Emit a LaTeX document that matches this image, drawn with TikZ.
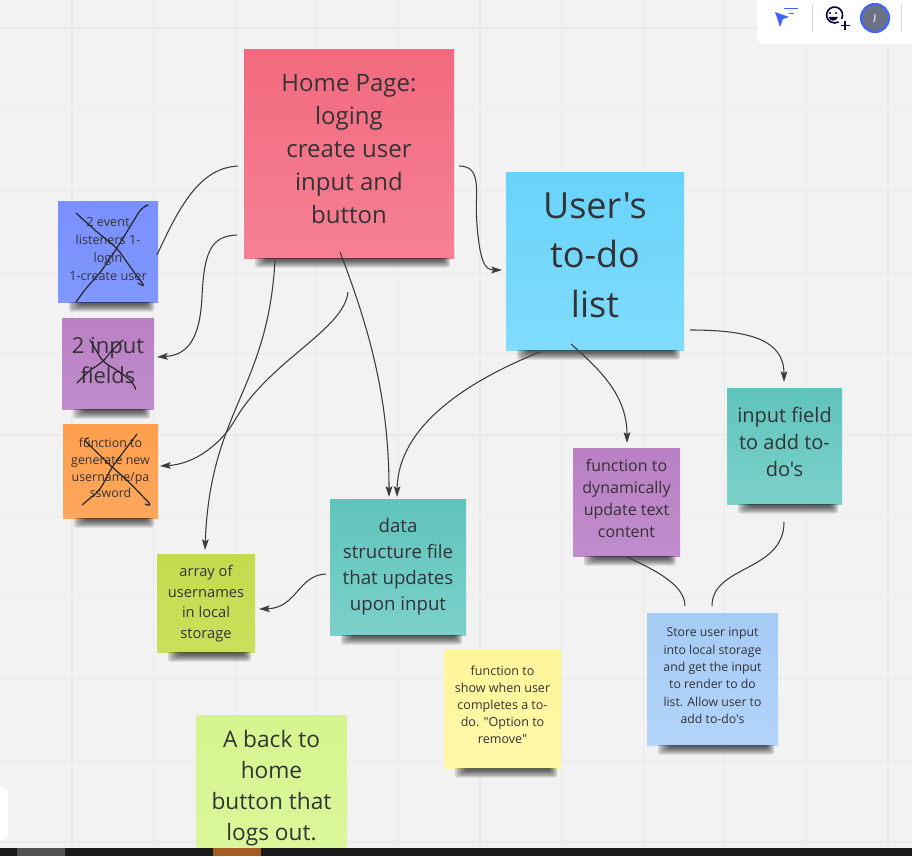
\documentclass[tikz,border=0pt]{standalone}
\usepackage{fontspec}
\newfontfamily\notefont{Open Sans}
\usepackage{xcolor}
\usetikzlibrary{calc}
\usetikzlibrary{arrows.meta}
\definecolor{boardbg}{HTML}{F2F2F2}
\definecolor{gridline}{HTML}{EAEAEA}
\definecolor{inkline}{HTML}{3C3C3C}
\definecolor{notetext}{HTML}{333336}
\definecolor{uiblue}{HTML}{4262FF}
\definecolor{uinavy}{HTML}{050038}
\definecolor{uigray}{HTML}{6C7285}
\definecolor{barblack}{HTML}{1A1A1A}
\definecolor{bargray}{HTML}{505050}
\definecolor{barorange}{HTML}{A85A25}
\definecolor{redA}{HTML}{F26A7E}
\definecolor{redB}{HTML}{F68094}
\definecolor{skyA}{HTML}{68D3FB}
\definecolor{skyB}{HTML}{80DCFC}
\definecolor{indigoA}{HTML}{7A90FF}
\definecolor{indigoB}{HTML}{7F97FF}
\definecolor{violetA}{HTML}{BA80C4}
\definecolor{violetB}{HTML}{C08CCB}
\definecolor{orangeA}{HTML}{FF9F4E}
\definecolor{orangeB}{HTML}{FFA75C}
\definecolor{limeA}{HTML}{C6DA4E}
\definecolor{limeB}{HTML}{CBDF5C}
\definecolor{tealA}{HTML}{60C4BC}
\definecolor{tealB}{HTML}{7BD1CA}
\definecolor{paleA}{HTML}{A5CBF5}
\definecolor{paleB}{HTML}{B3D4FA}
\definecolor{lemonA}{HTML}{FFF59B}
\definecolor{lemonB}{HTML}{FFF8A8}
\definecolor{leafA}{HTML}{D5F48E}
\definecolor{leafB}{HTML}{DBF79A}
\newcommand{\nudge}[1]{\\[#1]\mbox{}}
\newcommand{\noteshadow}[1]{\foreach \k in {0,...,5} {\pgfmathsetmacro{\inl}{22-2.2*\k}\pgfmathsetmacro{\inr}{11-1.4*\k}\pgfmathsetmacro{\dep}{2.5+1.4*\k}
    \fill[black,opacity=0.14,rounded corners=2pt] ($(\inl,0) + (#1.south west)$) -- ($(\inl,\dep) + (#1.south west)$) -- ($(-\inr,\dep) + (#1.south east)$) [sharp corners] -- ($(-\inr,0) + (#1.south east)$) -- cycle;}}

\begin{document}
\begin{tikzpicture}[x=0.75pt,y=-0.75pt,
    every node/.style={inner sep=0,outer sep=0,execute at begin node={\notefont}},
    note/.style 2 args={top color=#1,bottom color=#2,text=notetext,align=center},
    conn/.style={draw=inkline,line width=0.8pt},
    arrowconn/.style={conn,-{Stealth[length=8pt,width=5pt,inset=1.5pt]}},
    crossout/.style={draw=black!85,line width=0.9pt,line cap=round,rounded corners=5pt}]
    \useasboundingbox (0,0) rectangle (912,856);
    \fill[boardbg] (0,0) rectangle (912,856);
    \foreach \gx in {72,153.6,235.2,316.8,398.4,480,561.6,643.2,724.8,806.4,888} {\draw[gridline,line width=0.9pt] (\gx,0) -- (\gx,856);}
    \foreach \gy in {28,109.4,190.8,272.2,353.6,435,516.4,597.8,679.2,760.6,842} {\draw[gridline,line width=0.9pt] (0,\gy) -- (912,\gy);}

    % the sticky notes
    \node[note={redA}{redB},minimum width=157.5pt,minimum height=156pt,font=\fontsize{18}{24.75}\selectfont](home) at (349,154) {Home Page:\\loging\\create user\\input and\\button\nudge{-16.5pt}};
    \node[note={skyA}{skyB},minimum width=133.5pt,minimum height=133.5pt,font=\fontsize{27}{37}\selectfont](todo) at (595,261) {User's\\to-do\\list\nudge{-28pt}};
    \node[note={indigoA}{indigoB},minimum width=75pt,minimum height=75.75pt,font=\fontsize{9.5}{13.5}\selectfont](listeners) at (108,251.5) {2 event\\listeners 1-\\login\\1-create user\nudge{-9pt}};
    \node[note={violetA}{violetB},minimum width=69pt,minimum height=68.25pt,font=\fontsize{16.5}{22}\selectfont](fields) at (108,363.5) {2 input\\fields\nudge{-17.5pt}};
    \node[note={orangeA}{orangeB},minimum width=71.25pt,minimum height=70.5pt,font=\fontsize{9.3}{12.4}\selectfont](generate) at (110.5,471) {function to\\generate new\\username/pa\\ssword\nudge{-7.9pt}};
    \node[note={limeA}{limeB},minimum width=73.5pt,minimum height=73.5pt,font=\fontsize{11}{15.4}\selectfont](array) at (206,603) {array of\\usernames\\in local\\storage\nudge{-13.9pt}};
    \node[note={tealA}{tealB},minimum width=102pt,minimum height=102pt,font=\fontsize{14}{19.6}\selectfont](data) at (398,567) {data\\structure file\\that updates\\upon input\nudge{-15.8pt}};
    \node[note={violetA}{violetB},minimum width=80.25pt,minimum height=81pt,font=\fontsize{12}{16.6}\selectfont](dynamic) at (626.5,502) {function to\\dynamically\\update text\\content\nudge{-11.4pt}};
    \node[note={tealA}{tealB},minimum width=86.25pt,minimum height=87pt,font=\fontsize{15}{20}\selectfont](field) at (784.5,446) {input field\\to add to-\\do's\nudge{-14pt}};
    \node[note={paleA}{paleB},minimum width=98.25pt,minimum height=99pt,font=\fontsize{9.2}{13}\selectfont](store) at (712.5,679) {Store user input\\into local storage\\and get the input\\to render to do\\list. Allow user to\\add to-do's\nudge{-7.8pt}};
    \node[note={lemonA}{lemonB},minimum width=87.75pt,minimum height=88.5pt,font=\fontsize{9.4}{12.7}\selectfont](show) at (502.5,709) {function to\\show when user\\completes a to-\\do. "Option to\\remove"\nudge{-5.9pt}};
    \node[note={leafA}{leafB},minimum width=113.25pt,minimum height=99.75pt,font=\fontsize{17}{23.2}\selectfont](back) at (271.5,781.5) {\mbox{}\\[0pt]A back to\\home\\button that\\logs out.};

    \noteshadow{home} \noteshadow{todo} \noteshadow{listeners} \noteshadow{fields} \noteshadow{generate} \noteshadow{array}
    \noteshadow{data} \noteshadow{dynamic} \noteshadow{field} \noteshadow{store} \noteshadow{show}

    % connectors
    \draw[conn] ($(-6,12) + (home.west)$) .. controls (200,168) and (180,205) .. ($(-1,3.5) + (listeners.east)$);
    \draw[arrowconn] ($(-7,81) + (home.west)$) .. controls (212,236) and (204,250) .. (202,297) .. controls (200,335) and (190,355) .. ($(3,-6.5) + (fields.east)$);
    \draw[arrowconn] ($(-1,34) + (home.south)$) .. controls (344,330) and (270,360) .. (235,420) .. controls (221,444) and (195,464) .. ($(2,-5) + (generate.east)$);
    \draw[arrowconn] ($(-74,2) + (home.south)$) .. controls (268,390) and (210,410) .. ($(-1,-4) + (array.north)$);
    \draw[arrowconn] ($(-9,-6) + (home.south)$) .. controls (370,330) and (389,400) .. ($(-9,-2) + (data.north)$);
    \draw[arrowconn] ($(5,12) + (home.east)$) .. controls (484,166) and (474,195) .. (477,225) .. controls (480,262) and (485,270) .. ($(-4,9) + (todo.west)$);
    \draw[arrowconn] ($(-55,2) + (todo.south)$) .. controls (470,380) and (398,425) .. ($(-1,-2) + (data.north)$);
    \draw[arrowconn] ($(-24,-6) + (todo.south)$) .. controls (600,370) and (627,395) .. ($(0.5,-5) + (dynamic.north)$);
    \draw[arrowconn] ($(6,69) + (todo.east)$) .. controls (750,330) and (784,340) .. ($(-0.5,-6) + (field.north)$);
    \draw[conn] ($(0.5,1) + (dynamic.south)$) .. controls (655,570) and (685,585) .. ($(-27.5,-7) + (store.north)$);
    \draw[conn] ($(-0.5,18) + (field.south)$) .. controls (784,572) and (712,565) .. ($(-0.5,-7) + (store.north)$);
    \draw[arrowconn] ($(-4,7) + (data.west)$) .. controls (298,575) and (297,608) .. ($(4,6) + (array.east)$);

    % the hand drawn crosses
    \draw[crossout] (76,213) -- (97,232) -- (117,248) -- (131,268) -- (146,288) -- (138,283);
    \draw[crossout] (145,206) -- (142,207) -- (117,248) -- (100,273) -- (87,287) -- (76,302);
    \draw[crossout] (77,383) -- (90,370) -- (103,362) -- (112,350) -- (123,340);
    \draw[crossout] (90,340) -- (103,362) -- (120,372) -- (134,383) -- (135,387);
    \draw[crossout] (88,438) -- (82,438) -- (112,467) -- (127,480) -- (153,507) -- (145,504);
    \draw[crossout] (137,434) -- (112,467) -- (100,490) -- (82,505);

    % app chrome
    \fill[barblack] (0,848) rectangle (912,856);
    \fill[bargray] (17,848) rectangle (65,856);
    \fill[barorange] (213,848) rectangle (261,856);
    \fill[white,rounded corners=5pt] (-10,786) rectangle (8,840);
    \fill[white,rounded corners=5pt] (757,-10) rectangle (922,44);
    \draw[black!15,line width=0.6pt] (812,4) -- (812,32) (901,4) -- (901,32);
    \fill[uiblue] (775,12) -- (789,17) -- (783,19) -- (780,27) -- cycle;
    \draw[uiblue,line width=1.3pt] (784,8.5) -- (798,8.5) (789,13.5) -- (794,13.5);
    \draw[uinavy,line width=1.2pt] (841.5,19) arc (30:-300:8);
    \fill[uinavy] (830,13) circle (1.1) (836,13) circle (1.1);
    \fill[uinavy] (828.5,17) .. controls (830,22) and (836,22) .. (838,17) -- cycle;
    \draw[uinavy,line width=1.2pt] (845,21) -- (845,30) (840.5,25.5) -- (849.5,25.5);
    \node[circle,draw=uiblue,line width=1.6pt,fill=uigray,minimum size=21pt,text=white!85!gray,font=\fontsize{6}{7}\selectfont\bfseries](avatar) at (875,18) {J};
\end{tikzpicture}
\end{document}
